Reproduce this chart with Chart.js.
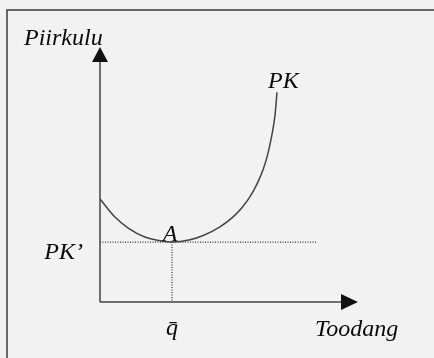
<!DOCTYPE html>
<html>
<head>
<meta charset="utf-8">
<script src="https://cdn.jsdelivr.net/npm/chart.js@4.4.0/dist/chart.umd.min.js"></script>
<style>
  html, body { margin: 0; padding: 0; background: #f2f2f2; }
  #wrap { width: 434px; height: 358px; }
</style>
</head>
<body>
<div id="wrap"><canvas id="costChart" width="434" height="358"></canvas></div>
<script>
// toodang (x) ja piirkulu (y), suhtelised ühikud 0..100
const outputQ = [0, 5.8, 10.9, 17.4, 24.0, 27.9, 34.9, 40.0, 46.5, 51.6, 55.0, 58.1, 61.0, 63.3, 65.2, 66.7, 67.8, 68.6];
const costPK  = [40.4, 33.3, 29.0, 25.5, 23.9, 23.5, 24.4, 26.1, 29.5, 33.4, 37.0, 41.2, 46.6, 52.2, 58.7, 65.9, 73.0, 82.2];

const qBar = 27.9;      // q ülakriipsuga
const pkMin = 23.5;     // PK'
const guideEnd = 84.1;  // horisontaalse punktiirjoone lõpp

const axisTitles = ['Piirkulu', 'Toodang'];
const curveLabels = ['PK', "PK\u2019", 'A', 'q\u0304'];

const curvePoints = outputQ.map((q, i) => ({ x: q, y: costPK[i] }));

const ink = '#0a0a0a';
const lineCol = '#444';

const diagramPlugin = {
    id: 'diagram',
    beforeDraw(chart) {
        const c = chart.ctx;
        c.save();
        c.fillStyle = '#f2f2f2';
        c.fillRect(0, 0, chart.width, chart.height);
        // raam
        c.strokeStyle = '#3a3a3a';
        c.lineWidth = 1.5;
        c.beginPath();
        c.moveTo(7, chart.height);
        c.lineTo(7, 10);
        c.lineTo(chart.width, 10);
        c.stroke();
        c.restore();
    },
    afterDraw(chart) {
        const c = chart.ctx;
        const a = chart.chartArea;
        const xs = chart.scales.x, ys = chart.scales.y;
        c.save();
        // teljed
        c.strokeStyle = lineCol;
        c.fillStyle = '#111';
        c.lineWidth = 1.5;
        c.beginPath();
        c.moveTo(a.left, a.bottom);
        c.lineTo(a.left, a.top + 15);
        c.moveTo(a.left, a.bottom);
        c.lineTo(a.right - 17, a.bottom);
        c.stroke();
        c.beginPath();
        c.moveTo(a.left - 8, a.top + 15);
        c.lineTo(a.left + 8, a.top + 15);
        c.lineTo(a.left, a.top);
        c.closePath();
        c.fill();
        c.beginPath();
        c.moveTo(a.right - 17, a.bottom - 8);
        c.lineTo(a.right - 17, a.bottom + 8);
        c.lineTo(a.right, a.bottom);
        c.closePath();
        c.fill();

        // tekstid
        c.fillStyle = ink;
        c.font = 'italic 24px "Liberation Serif", "DejaVu Serif", serif';
        c.textBaseline = 'alphabetic';
        c.textAlign = 'left';
        c.fillText(axisTitles[0], 24, 45);
        c.fillText(axisTitles[1], 315, a.bottom + 34);

        const last = curvePoints[curvePoints.length - 1];
        c.fillText(curveLabels[0], xs.getPixelForValue(last.x) - 9, ys.getPixelForValue(last.y) - 4);

        c.textAlign = 'right';
        c.fillText(curveLabels[1], a.left - 17, ys.getPixelForValue(pkMin) + 17);

        c.textAlign = 'center';
        c.fillText(curveLabels[2], xs.getPixelForValue(qBar) - 2, ys.getPixelForValue(pkMin) - 1);
        c.fillText(curveLabels[3], xs.getPixelForValue(qBar), a.bottom + 33);
        c.restore();
    }
};

new Chart(document.getElementById('costChart'), {
    type: 'scatter',
    data: {
        datasets: [
            {
                data: curvePoints,
                showLine: true,
                borderColor: lineCol,
                borderWidth: 1.5,
                pointRadius: 0,
                cubicInterpolationMode: 'monotone',
                fill: false
            },
            {
                data: [{ x: 0, y: pkMin }, { x: guideEnd, y: pkMin }],
                showLine: true,
                borderColor: '#333',
                borderWidth: 1.2,
                borderDash: [1, 1.5],
                pointRadius: 0
            },
            {
                data: [{ x: qBar, y: pkMin }, { x: qBar, y: 0 }],
                showLine: true,
                borderColor: '#333',
                borderWidth: 1.2,
                borderDash: [1, 1.5],
                pointRadius: 0
            }
        ]
    },
    options: {
        responsive: false,
        animation: false,
        layout: { padding: { left: 100, right: 76, top: 47, bottom: 56 } },
        scales: {
            x: { type: 'linear', min: 0, max: 100, display: false },
            y: { type: 'linear', min: 0, max: 100, display: false }
        },
        plugins: {
            legend: { display: false },
            tooltip: { enabled: false }
        }
    },
    plugins: [diagramPlugin]
});
</script>
</body>
</html>
